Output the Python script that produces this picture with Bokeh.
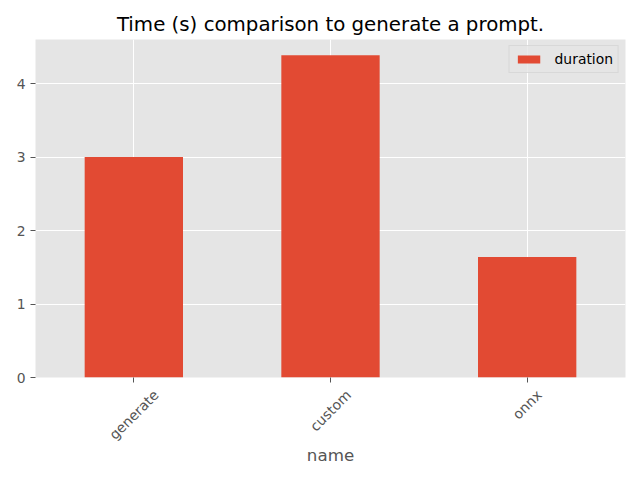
import math
from bokeh.plotting import figure
from bokeh.models import FixedTicker, Range1d, CustomJSTickFormatter, ColumnDataSource
from bokeh.embed import file_html
from bokeh.resources import INLINE

# ---- data ----
names = ["generate", "custom", "onnx"]
durations = [3.0, 4.385, 1.64]
y_ticks = [0, 1, 2, 3, 4]
series_name = "duration"
title_text = "Time (s) comparison to generate a prompt."
x_label = "name"

FONT = "DejaVu Sans"
TICK_FS = 13.9
GREY = "#555555"
FRAME_W = 590

xs = list(range(len(names)))
src = ColumnDataSource(dict(x=xs, top=durations, name=names))

p = figure(
    frame_width=FRAME_W, frame_height=338,
    min_border_left=35, min_border_right=15, min_border_top=39, min_border_bottom=103,
    x_range=Range1d(-0.5, len(names) - 0.5), y_range=Range1d(0, 4.6),
    output_backend="svg", toolbar_location=None,
)
p.background_fill_color = "#E5E5E5"
p.border_fill_color = "white"
p.outline_line_color = None

p.vbar(x="x", top="top", width=0.5, bottom=0, source=src,
       fill_color="#E24A33", line_color=None, legend_label=series_name)

# title
p.title.text = title_text
p.title.text_font = FONT
p.title.text_font_size = "19.8px"
p.title.text_font_style = "normal"
p.title.text_color = "black"
p.title.align = "center"
p.title.standoff = 8

# grids
for g in (p.xgrid, p.ygrid):
    g.grid_line_color = "white"
    g.grid_line_width = 1
p.xgrid.ticker = FixedTicker(ticks=xs)
p.ygrid.ticker = FixedTicker(ticks=y_ticks)

# axes
for ax in (p.xaxis, p.yaxis):
    ax.axis_line_color = None
    ax.major_tick_line_color = GREY
    ax.major_tick_out = 5
    ax.major_tick_in = 0
    ax.minor_tick_line_color = None
    ax.major_label_text_font = FONT
    ax.major_label_text_color = GREY
    ax.major_label_text_font_size = f"{TICK_FS}px"

p.yaxis.ticker = FixedTicker(ticks=y_ticks)
p.yaxis.major_label_standoff = 5

# x axis: rotated labels centred under the ticks (matplotlib rotation=45, ha=center).
# Bokeh right-aligns positive-angle labels at the tick, so the label ticks are
# shifted right by half the rotated text width; real tick marks are minor ticks.
ADV = {"a": 1255, "c": 1126, "e": 1260, "g": 1300, "m": 1995, "n": 1298, "o": 1253,
       "r": 842, "s": 1067, "t": 803, "u": 1298, "x": 1212}
px_per_unit = FRAME_W / len(names)
s45 = math.sin(math.pi / 4)
label_pos = []
for i, nm in enumerate(names):
    w = sum(ADV.get(c, 1200) for c in nm) / 2048 * TICK_FS
    label_pos.append(i + (w / 2) * s45 / px_per_unit)

p.xaxis.ticker = FixedTicker(ticks=label_pos, minor_ticks=xs)
p.xaxis.formatter = CustomJSTickFormatter(args=dict(names=names),
                                          code="return names[Math.round(tick)];")
p.xaxis.major_tick_line_color = None
p.xaxis.minor_tick_line_color = GREY
p.xaxis.minor_tick_out = 5
p.xaxis.minor_tick_in = 0
p.xaxis.major_label_orientation = math.pi / 4
p.xaxis.major_label_standoff = 10
p.xaxis.axis_label = x_label
p.xaxis.axis_label_text_font = FONT
p.xaxis.axis_label_text_font_size = "16.7px"
p.xaxis.axis_label_text_font_style = "normal"
p.xaxis.axis_label_text_color = GREY
p.xaxis.axis_label_standoff = -6

# legend
lg = p.legend[0]
lg.location = "top_right"
lg.margin = 6
lg.padding = 5
lg.spacing = 0
lg.glyph_width = 28
lg.glyph_height = 10
lg.label_standoff = 12
lg.label_text_font = FONT
lg.label_text_font_size = f"{TICK_FS}px"
lg.label_text_color = "black"
lg.background_fill_color = "#E5E5E5"
lg.background_fill_alpha = 0.8
lg.border_line_color = "#CCCCCC"

open("out.html", "w").write(file_html(p, INLINE))
